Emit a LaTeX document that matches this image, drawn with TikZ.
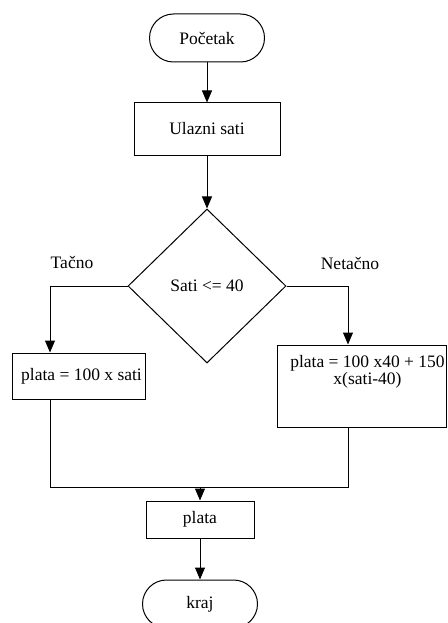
\documentclass[tikz,border=0pt]{standalone}
\usepackage{fontspec}
\setmainfont{Liberation Serif}
\usetikzlibrary{shapes.geometric,arrows.meta}
\begin{document}
\begin{tikzpicture}[x=1pt,y=-1pt,
  every node/.style={font=\fontsize{17.5}{17}\selectfont, inner sep=0pt},
  base/.style={draw, line width=1pt},
  term/.style={base, rectangle, rounded corners=24pt, minimum width=115pt, minimum height=48pt},
  proc/.style={base, rectangle},
  decision/.style={base, diamond, minimum width=158pt, minimum height=154pt},
  arr/.style={line width=1pt, -{Triangle[width=10pt,length=12pt]}},
  wire/.style={line width=1pt}]
\clip (0,0) rectangle (447,623);

% main column
\node[term] (start) at (207,38) {Početak};
\node[proc, minimum width=146pt, minimum height=52pt] (input) at (207,129) {Ulazni sati};
\node[decision] (test) at (207,286) {Sati <= 40};

% branch labels
\node (tlabel) at (72,262) {Tačno};
\node (flabel) at (350,263) {Netačno};

% branch boxes
\node[proc, minimum width=133pt, minimum height=46pt] (yes) at (78.5,376)
  {\hspace*{6pt}plata = 100 x sati};
\node[proc, minimum width=169pt, minimum height=82pt, inner xsep=1pt, inner ysep=6pt] (no) at (361.5,386)
  {\hspace*{12pt}\parbox[c][70pt][t]{155pt}{\centering\rule{0pt}{16pt}plata = 100 x40 + 150\\x(sati-40)}};

% output and end
\node[proc, minimum width=108pt, minimum height=37pt] (out) at (200,519.5) {plata};
\node[term] (end) at (200,604) {kraj};

% routing points
\coordinate (lx) at (50,286);
\coordinate (rx) at (348,286);
\coordinate (join) at (200,487);

% connectors
\draw[arr] (start) -- (input);
\draw[arr] (input) -- (test);
\draw[arr] (test.west) -| (lx |- yes.north);
\draw[arr] (test.east) -| (rx |- no.north);
\draw[wire] (lx |- yes.south) -- (lx |- join) -- (rx |- join) -- (rx |- no.south);
\draw[arr] (join) -- (out);
\draw[arr] (out) -- (end);
\end{tikzpicture}
\end{document}
